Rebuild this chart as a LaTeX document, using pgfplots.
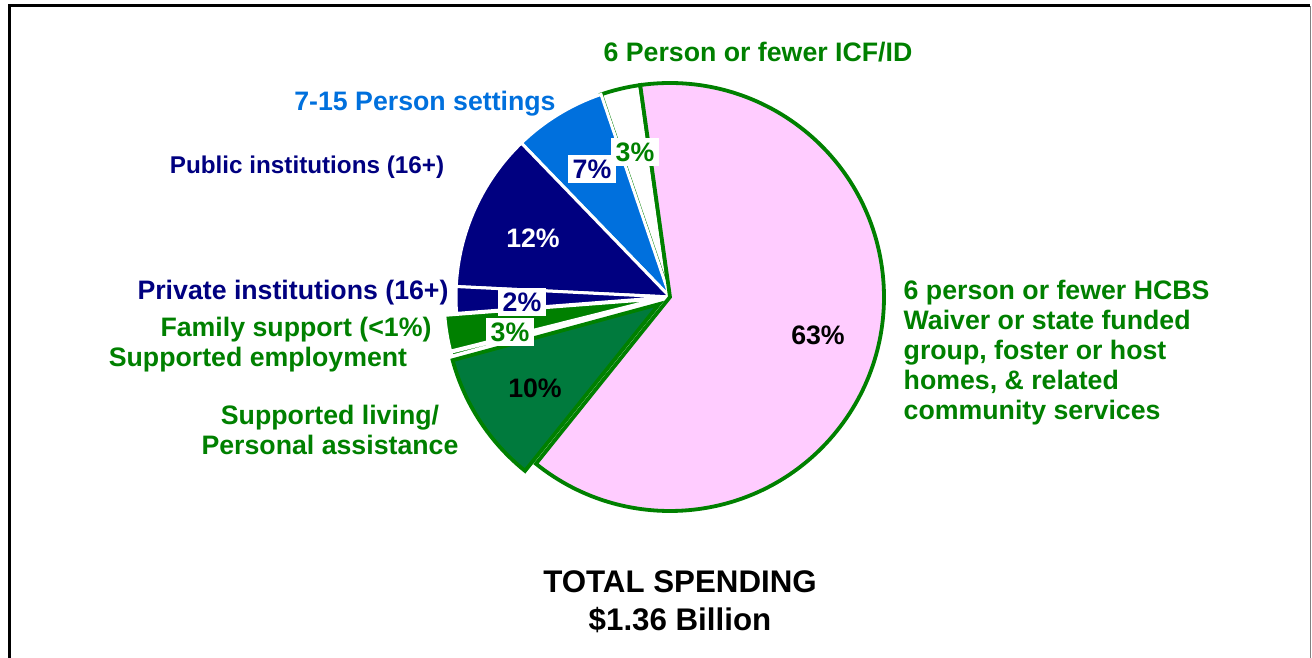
\documentclass[border=0pt]{standalone}
\usepackage{pgfplots}
\usepackage{pgfplotstable}
\pgfplotsset{compat=1.18}
\usepackage{fontspec}
\setmainfont{Liberation Sans}
\definecolor{pgreen}{RGB}{0,128,0}
\definecolor{dgreen}{RGB}{0,122,61}
\definecolor{navy}{RGB}{0,0,128}
\definecolor{mblue}{RGB}{0,112,221}
\definecolor{lpink}{RGB}{255,204,255}

% slices, counter-clockwise from 98 degrees
\pgfplotstableread{
name pct fillc drawc expl lw
ICF 3 white pgreen 0 0.038
Small 7 mblue white 0 0.03
Public 12 navy white 0 0.03
Private 2 navy white 0 0.03
SupEmp 2.7 pgreen white 12 0.03
Family 0.3 pgreen white 12 0.03
SupLiving 10 dgreen pgreen 13 0.038
HCBS 63 lpink pgreen 0 0.038
}\piedata

\begin{document}
\begin{tikzpicture}[
  lbl/.style={font=\bfseries\fontsize{7.6}{8.5}\selectfont, inner sep=0pt},
  pct/.style={font=\bfseries\fontsize{7.6}{8.5}\selectfont, inner sep=1.2pt}]
\begin{axis}[
  at={(0,0)}, anchor=south west,
  width=13.12cm, height=6.58cm, scale only axis,
  xmin=0, xmax=1312, ymin=0, ymax=658,
  hide axis, clip=false]
\def\astart{98}
\pgfplotsforeachungrouped \i in {0,...,7}{%
  \pgfplotstablegetelem{\i}{pct}\of\piedata \let\pcv\pgfplotsretval
  \pgfplotstablegetelem{\i}{fillc}\of\piedata \let\fcv\pgfplotsretval
  \pgfplotstablegetelem{\i}{drawc}\of\piedata \let\dcv\pgfplotsretval
  \pgfplotstablegetelem{\i}{expl}\of\piedata \let\exv\pgfplotsretval
  \pgfplotstablegetelem{\i}{lw}\of\piedata \let\lwv\pgfplotsretval
  \pgfmathsetmacro\aend{\astart+3.6*\pcv}%
  \pgfmathsetmacro\amid{(\astart+\aend)/2}%
  \pgfmathsetmacro\cxv{670+\exv*cos(\amid)}%
  \pgfmathsetmacro\cyv{361+\exv*sin(\amid)}%
  \edef\temp{\noexpand\filldraw[fill=\fcv, draw=\dcv, line width=\lwv cm, line join=miter] (axis cs:\cxv,\cyv) -- ++(\astart:2.14cm) arc[start angle=\astart, end angle=\aend, radius=2.14cm] -- cycle;}%
  \temp
  \global\let\astart\aend
}
% frame
\draw[line width=0.03cm] (axis cs:9.5,-20) -- (axis cs:9.5,652) -- (axis cs:1310,652);
\draw[line width=0.01cm, gray] (axis cs:1310.5,652) -- (axis cs:1310.5,-20);

% outer labels
\node[lbl, text=pgreen] at (axis cs:758,606) {6 Person or fewer ICF/ID};
\node[lbl, text=mblue] at (axis cs:425,554) {7-15 Person settings};
\node[lbl, text=navy, font=\bfseries\fontsize{6.9}{8.5}\selectfont] at (axis cs:307,491) {Public institutions (16+)};
\node[lbl, text=navy] at (axis cs:293,365) {Private institutions (16+)};
\node[lbl, text=pgreen] at (axis cs:296,328) {Family support (<1\%)};
\node[lbl, text=pgreen] at (axis cs:258,298) {Supported employment};
\node[lbl, text=pgreen, align=center, font=\bfseries\fontsize{7.6}{8.54}\selectfont] at (axis cs:330,228) {Supported living/\\Personal assistance};
\node[lbl, text=pgreen, align=left, anchor=west, font=\bfseries\fontsize{7.6}{8.54}\selectfont] at (axis cs:903,305) {6 person or fewer HCBS\\Waiver or state funded\\group, foster or host\\homes, \& related\\community services};
\node[lbl, align=center, font=\bfseries\fontsize{8.9}{10.8}\selectfont] at (axis cs:680,56) {TOTAL SPENDING\\\$1.36 Billion};

% percentages
\node[pct] at (axis cs:818,323) {63\%};
\node[pct] at (axis cs:535,270) {10\%};
\node[pct, text=white] at (axis cs:533,420) {12\%};
\node[pct, text=navy, fill=white] at (axis cs:592,489) {7\%};
\node[pct, text=pgreen, fill=white] at (axis cs:635,506) {3\%};
\node[pct, text=navy, fill=white] at (axis cs:522,356) {2\%};
\node[pct, text=pgreen, fill=white] at (axis cs:510,326) {3\%};
\end{axis}
\pgfresetboundingbox
\useasboundingbox (0,0) rectangle (13.12cm,6.58cm);
\end{tikzpicture}
\end{document}
